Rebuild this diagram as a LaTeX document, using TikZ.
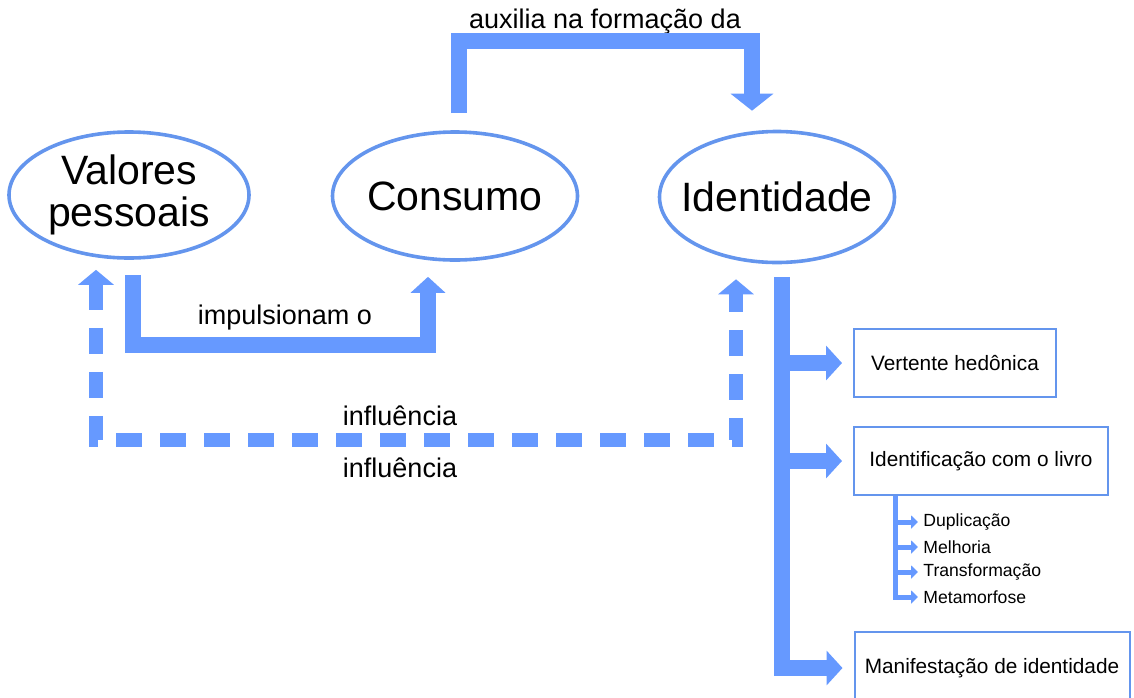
\documentclass[tikz,border=0pt]{standalone}
\usepackage{fontspec}
\setmainfont{Liberation Sans}
\usetikzlibrary{arrows.meta,shapes.geometric,positioning}
\definecolor{arrowblue}{RGB}{102,153,255}
\definecolor{lineblue}{RGB}{100,149,237}

\begin{document}
\begin{tikzpicture}[x=0.5pt,y=-0.5pt,
  bubble/.style={ellipse,draw=lineblue,line width=1.8pt,inner sep=0pt,align=center,font=\fontsize{20.5}{21}\selectfont},
  aspect/.style={rectangle,draw=lineblue,line width=1pt,inner sep=0pt,font=\fontsize{10.4}{12}\selectfont},
  fat/.style={draw=arrowblue,line width=8pt},
  fatarrow/.style={fat,-{Triangle[width=17pt,length=8pt]}},
  bigarrow/.style={fat,-{Triangle[width=21pt,length=8.5pt]}},
  dasharrow/.style={draw=arrowblue,line width=7pt,dash pattern=on 13pt off 9pt,{Triangle[width=17.5pt,length=7.5pt]}-{Triangle[width=17.5pt,length=7.5pt]}},
  slim/.style={draw=arrowblue,line width=2.5pt,-{Triangle[width=6.5pt,length=3.5pt]}},
  linktext/.style={font=\fontsize{13.5}{16}\selectfont},
  kind/.style={font=\fontsize{8.8}{10}\selectfont,inner sep=0pt,anchor=west}]
\useasboundingbox (0,0) rectangle (1134,697);
\clip (0,0) rectangle (1134,697);

\node[bubble,minimum width=120pt,minimum height=63pt] (valores) at (129,195) {Valores\\pessoais};
\node[bubble,minimum width=122.5pt,minimum height=64pt,inner xsep=-2pt] (consumo) at (455,196) {Consumo};
\node[bubble,minimum width=117.5pt,minimum height=65.5pt,inner xsep=-6.5pt] (ident) at (777,197) {Identidade};

\node[linktext] (aux) at (605,22) {auxilia na formação da};
\node[linktext] (imp) at (285,318) {impulsionam o};
\node[linktext] (infA) at (400,416) {influência};
\node[linktext] (infB) at (400,468) {influência};

\node[aspect,minimum width=101pt,minimum height=34pt] (vert) at (955,363) {Vertente hedônica};
\node[aspect,minimum width=127pt,minimum height=34pt] (livro) at (981,461) {Identificação com o livro};
\node[aspect,minimum width=137.5pt,minimum height=36pt] (manif) at (992,668) {Manifestação de identidade};

\node[kind] (dup) at (923,522) {Duplicação};
\node[kind] (melh) at (923,547) {Melhoria};
\node[kind] (trans) at (923,572) {Transformação};
\node[kind] (meta) at (923,597) {Metamorfose};

\draw[bigarrow] ([xshift=2pt,yshift=8.5pt]consumo.north) -- ++(0,-72) -| ([xshift=-12.5pt,yshift=9.5pt]ident.north);
\draw[fatarrow] ([xshift=2pt,yshift=-7.5pt]valores.south) -- ++(0,70) -| ([xshift=-13.5pt,yshift=-7.5pt]consumo.south);
\draw[dasharrow] ([xshift=-16.5pt,yshift=-5pt]valores.south) -- ++(0,170) -| ([xshift=-20.5pt,yshift=-7.5pt]ident.south);

\coordinate (trunk) at ([xshift=2.5pt,yshift=-6.5pt]ident.south);
\draw[fatarrow,shorten >=5.5pt] (trunk) |- (manif.west);
\draw[fatarrow,shorten >=5.5pt] (trunk |- vert.west) -- (vert.west);
\draw[fatarrow,shorten >=5.5pt] (trunk |- livro.west) -- (livro.west);

\coordinate (sub) at ([xshift=-43pt]livro.south);
\draw[slim,shorten >=2.5pt] (sub) |- (meta.west);
\draw[slim,shorten >=2.5pt] (sub |- dup.west) -- (dup.west);
\draw[slim,shorten >=2.5pt] (sub |- melh.west) -- (melh.west);
\draw[slim,shorten >=2.5pt] (sub |- trans.west) -- (trans.west);
\end{tikzpicture}
\end{document}
